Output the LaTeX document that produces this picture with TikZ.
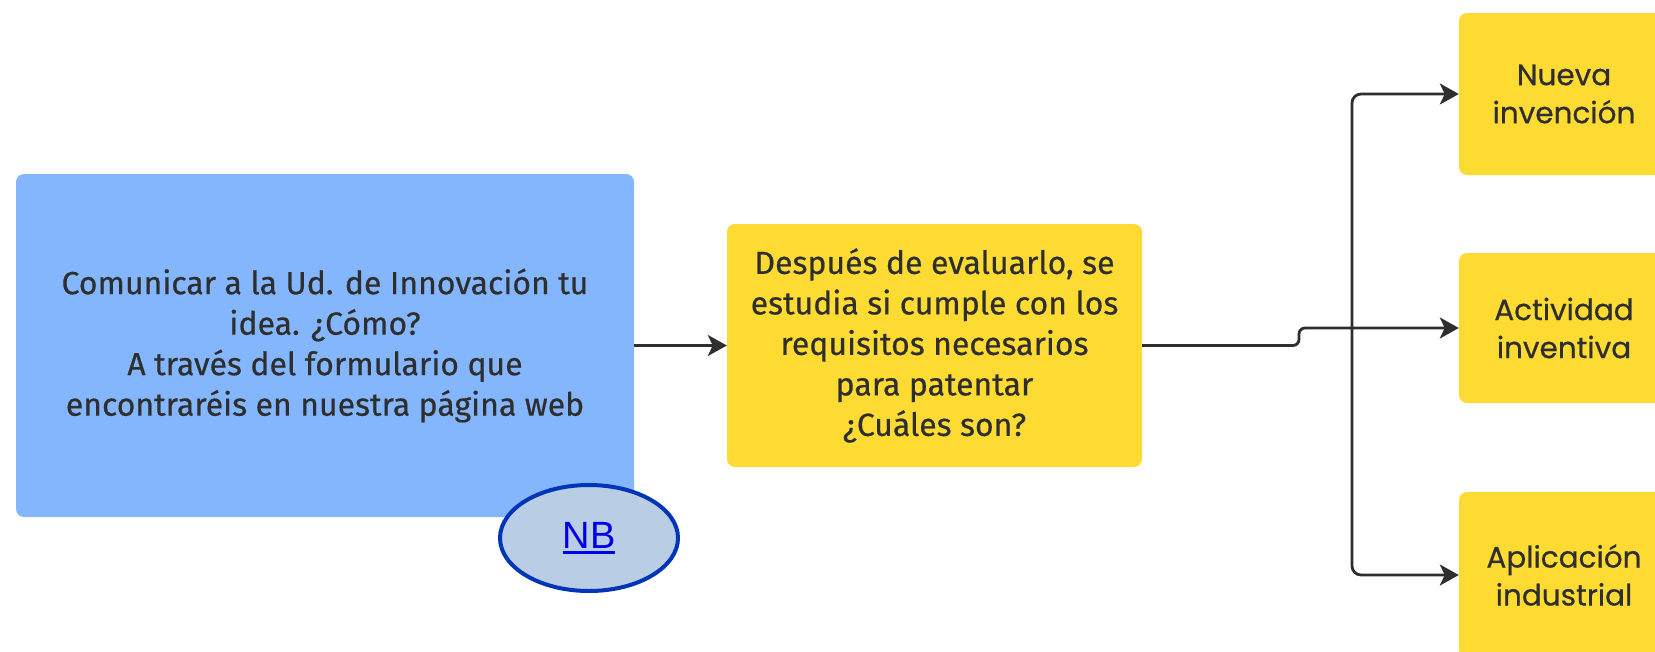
\documentclass[tikz,border=0pt]{standalone}
\usepackage{fontspec}
\setmainfont[FakeBold=0.5]{Fira Sans}
\newfontfamily\rightfont[FakeBold=0.6]{Poppins}
\newfontfamily\nbfont{Liberation Sans}
\usetikzlibrary{arrows.meta,shapes.geometric}
\definecolor{bluebox}{HTML}{84B6FD}
\definecolor{yel}{HTML}{FDDB33}
\definecolor{txt}{HTML}{2E2E2E}
\definecolor{nbfill}{HTML}{B9CDE5}
\definecolor{nbdraw}{HTML}{0035B8}
\definecolor{linkcol}{HTML}{0000EE}
\newcommand{\myuline}[1]{\setbox0=\hbox{#1}\rlap{\rule[-6pt]{\wd0}{3pt}}\box0}
\begin{document}
\begin{tikzpicture}[x=1pt,y=-1pt,
  card/.style={rounded corners=8pt, align=center, text=txt, inner sep=0pt},
  bluecard/.style={card, fill=bluebox},
  yelcard/.style={card, fill=yel},
  lefttext/.style={font=\fontsize{32}{40.5}\selectfont},
  righttext/.style={font=\rightfont\fontsize{29.5}{38}\selectfont},
  conn/.style={draw=txt, line width=2.8pt},
  arr/.style={conn, -{Stealth[length=19pt,width=21pt,inset=5pt]}}]
\useasboundingbox (0,0) rectangle (1655,651);
\clip (0,0) rectangle (1655,651);
\fill[white] (0,0) rectangle (1655,651);
\node[bluecard, lefttext, minimum width=618pt, minimum height=343pt] (idea) at (325,345.5)
  {Comunicar a la Ud. de Innovación tu\\ idea. ¿Cómo?\\ A través del formulario que\\ encontraréis en nuestra página web};
\node[yelcard, lefttext, minimum width=415pt, minimum height=243pt] (eval) at (934.5,345.5)
  {Después de evaluarlo, se\\ estudia si cumple con los\\ requisitos necesarios\\ para patentar\\ ¿Cuáles son?};
\node[yelcard, righttext, minimum width=210pt, minimum height=162pt] (nueva) at (1564,94) {Nueva\\ invención};
\node[yelcard, righttext, minimum width=210pt, minimum height=150pt] (act) at (1564,328) {Actividad\\ inventiva};
\node[yelcard, righttext, minimum width=210pt, minimum height=166pt] (apl) at (1564,575) {Aplicación\\ industrial};
\node[ellipse, fill=nbfill, draw=nbdraw, line width=4pt, minimum width=178pt, minimum height=106pt,
  font=\nbfont\fontsize{38}{40}\selectfont, text=linkcol] (nb) at (589,538) {\myuline{NB}};
\coordinate (j1) at (1299,345.5);
\coordinate (j2) at (1299,328);
\coordinate (bus) at (1352,328);
\draw[arr] (idea.east) -- (eval.west);
\draw[arr, rounded corners=6pt] (eval.east) -- (j1) -- (j2) -- (act.west);
\draw[arr, rounded corners=9pt] (bus) |- (nueva.west);
\draw[arr, rounded corners=9pt] (bus) |- (apl.west);
\end{tikzpicture}
\end{document}
